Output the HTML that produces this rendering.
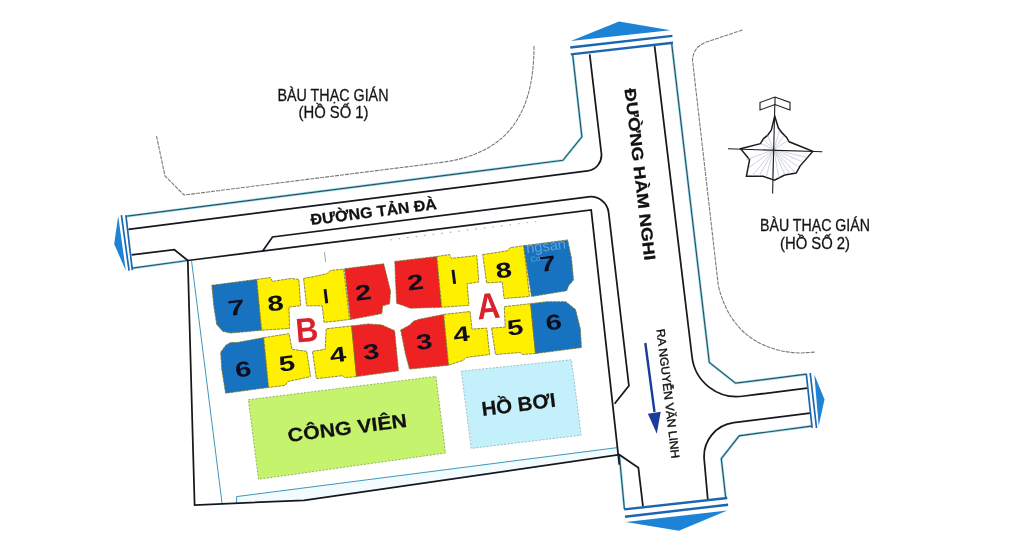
<!DOCTYPE html>
<html><head><meta charset="utf-8"><style>
html,body{margin:0;padding:0;background:#fff;width:1024px;height:548px;overflow:hidden}
svg{display:block;will-change:transform}
text{font-family:"Liberation Sans",sans-serif}
</style></head><body>
<svg width="1024" height="548" viewBox="0 0 1024 548">
<rect width="1024" height="548" fill="#fff"/>

<g fill="none" stroke="#7a7a7a" stroke-width="1.1" stroke-dasharray="4 1">
  <path d="M156.5,136 L165,176 L184,195 L440,162.6 C501.1,154.8 534,121.8 534,46"/>
  <path d="M742.5,30 L705,42.5 Q693,48 692.5,60 L718.3,285.6 C730,335 765,352 800,353 L815.4,352.1"/>
</g>

<path d="M324.4,252 L325.6,262" stroke="#9a9a9a" stroke-width="0.9" fill="none"/>
<path d="M390,239.8 L536,221.5" stroke="#b4b4b4" stroke-width="1.2" fill="none" stroke-dasharray="1.6 7"/>
<path d="M236.6,496.6 L618,447 L619.4,454.7 L304,500.3 L237.5,503 Z" fill="#f2fbfe"/>

<path d="M248.4,399.7 L435.9,376.4 L445.5,453 L258.5,479.3 Z" fill="#c6f36e" stroke="#6f9a3a" stroke-width="0.7" stroke-dasharray="2 1.5"/>
<path d="M461.3,371.2 L571.4,359.7 L581.2,435.2 L471.2,448.4 Z" fill="#c4f0fb" stroke="#7fa9b8" stroke-width="0.7" stroke-dasharray="2 1.5"/>

<g fill="none" stroke-linejoin="miter">
  <g stroke="#9fe0f2" stroke-width="2.6">
    <path d="M127.1,216.2 L562.9,160.3 L581.9,136.9 L572.7,55.1"/><path d="M132.3,268.2 L187.8,260.5"/><path d="M671.7,43.6 L709.3,362.4 L735.5,383.2 L806.3,374.2"/><path d="M811.4,426.1 L739.2,435.8 L721.3,458.7 L725.8,498.5"/><path d="M619.3,455 L624.4,509"/>
  </g>
  <g stroke="#2b5563" stroke-width="1.2">
    <path d="M127.1,216.2 L562.9,160.3 L581.9,136.9 L572.7,55.1"/><path d="M132.3,268.2 L187.8,260.5"/><path d="M671.7,43.6 L709.3,362.4 L735.5,383.2 L806.3,374.2"/><path d="M811.4,426.1 L739.2,435.8 L721.3,458.7 L725.8,498.5"/><path d="M619.3,455 L624.4,509"/>
  </g>
</g>
<g fill="none" stroke="#3f97bb" stroke-width="1">
  <path d="M191.6,261.2 L222,503"/>
  <path d="M236.6,503 L236.6,496.6 L618,447.5"/>
</g>

<g fill="none" stroke="#16181f" stroke-width="1.75" stroke-linejoin="miter">
  <path d="M128.40,229.30 L587.50,170.99 A16.00,16.00 0 0 0 601.37,153.25 L589.71,54.40"/>
  <path d="M131.6,254.8 L174.4,249.7 L187.8,260.5"/>
  <path d="M262.50,251.20 L272.50,236.98 L588.49,196.85 A18.00,18.00 0 0 1 608.64,212.62 L628.90,385.70 L614.60,403.80"/>
  <path d="M187.8,260.5 L591.2,209.9 L619.3,464.6"/>
  <path d="M187.8,260.5 L194.6,505 L304,500.3 L619.4,454.7 L638.4,467.8 L643,506.6"/>
  <path d="M654.60,46.20 L692.05,356.99 A45.00,45.00 0 0 0 742.40,396.25 L807.00,388.04"/>
  <path d="M810.00,413.06 L733.79,422.74 A34.00,34.00 0 0 0 704.21,459.51 L707.80,499.50"/>
</g>

<g fill="#1d83d6">
  <path d="M570.8,41.1 L619,21.4 L670.4,30.3 Z"/>
  <path d="M625.8,521.9 L727.3,510.5 L678.9,530.8 Z"/>
  <path d="M118.2,216 L114.2,244 L125.8,270.5 Z"/>
  <path d="M814.3,374.6 L824.5,399.4 L818.7,425.7 Z"/>
</g>
<g fill="none" stroke="#1a66b0" stroke-width="2.4">
  <path d="M570.2,47.5 L672.4,35.9"/>
  <path d="M570.8,54.4 L673,42.8"/>
  <path d="M624.2,509.4 L727.3,498"/>
  <path d="M625,516.7 L728.1,504.7"/>
</g>
<g fill="none" stroke="#1a66b0" stroke-width="1.7">
  <path d="M121.4,215.2 L129.1,270.7"/>
  <path d="M125.9,215.2 L132.3,270.1"/>
  <path d="M806.3,373.9 L812.1,427.9"/>
  <path d="M810.2,373 L816.5,428"/>
</g>
<!-- buildings B -->
<g stroke="#75702c" stroke-width="0.8" stroke-dasharray="3 0.8" stroke-linejoin="round">
  <path fill="#1773c0" d="M211.8,285.3 L256.8,279.4 L261.6,330.2 L230.4,333.1 L222.6,331.2 L216.7,324.3 L213.8,305.8 Z"/>
  <path fill="#fff000" d="M256.8,279.4 L270.4,277.5 L272.4,281.4 L290.9,278.4 L298.8,279.4 L300.7,305.8 L289,307 L289.5,328.5 L261.6,330.2 Z"/>
  <path fill="#fff000" d="M303.6,278.4 L314.4,276.5 L327.1,273.6 L330,270.6 L343.7,269.1 L349.5,319.5 L324.1,322.4 L322.2,305.8 L306.6,305.8 Z"/>
  <path fill="#ee2222" d="M344.6,268.7 L383.7,263.8 L390.5,291.1 L389.6,303.8 L382.7,305.8 L381.8,313.6 L350.5,319.5 Z"/>
  <path fill="#1773c0" d="M220.7,352.2 L225.6,345.4 L230.5,342.5 L237.3,342.5 L263.7,337.6 L268.6,387.4 L225.6,393.2 L221.7,368.8 Z"/>
  <path fill="#fff000" d="M263.7,337.6 L289.1,333.7 L292,349.3 L306.7,351.3 L310.6,376.6 L288.1,381.5 L285.2,385.4 L268.6,387.4 Z"/>
  <path fill="#fff000" d="M312.5,351.3 L325.2,349.3 L326.2,328.8 L351.6,325.9 L356.5,376.6 L344.8,377.6 L342.8,375.7 L316.4,378.6 Z"/>
  <path fill="#ee2222" d="M351.6,325.9 L368.2,323.9 L381.9,324.9 L394.6,330.7 L398.5,370.8 L356.5,376.6 Z"/>
</g>
<!-- buildings A -->
<g stroke="#75702c" stroke-width="0.8" stroke-dasharray="3 0.8" stroke-linejoin="round">
  <path fill="#ee2222" d="M394.8,261.4 L436.8,256.5 L441.6,307.3 L410.4,308.2 L402.6,305.3 L396.7,303.4 L395.7,283.8 Z"/>
  <path fill="#fff000" d="M436.8,256.5 L449.5,254.5 L451.4,258.4 L476.8,255.5 L478.8,281.9 L467,283.8 L469,305.3 L441.6,307.3 Z"/>
  <path fill="#fff000" d="M482.7,254.5 L496.3,252.6 L508,250.6 L510,247.7 L523.7,245.7 L529.5,296.5 L504.1,298.5 L502.2,281.9 L486.6,282.9 Z"/>
  <path fill="#1773c0" d="M523.7,245.7 L567.6,239.9 L571.5,258.4 L573.5,279.9 L568.6,285.8 L566.6,290.7 L531.5,296.5 Z"/>
  <path fill="#ee2222" d="M400.7,330 L409.5,325.2 L413.4,321.3 L419.3,319.3 L443.7,314.4 L448.6,365.2 L409.5,369.1 L405.6,354.5 Z"/>
  <path fill="#fff000" d="M443.7,314.4 L470.1,311.5 L472,329.1 L486.7,328.1 L489.6,354.5 L466.2,357.4 L463.2,360.3 L448.6,365.2 Z"/>
  <path fill="#fff000" d="M491.6,328.1 L505.2,327.1 L504.3,306.6 L530.6,303.7 L535.5,353.5 L522.8,354.5 L519.9,352.5 L495.5,354.5 Z"/>
  <path fill="#1773c0" d="M530.6,303.7 L546.3,301.7 L565.8,301.7 L575.5,309.5 L580.4,329.1 L581.4,347.6 L535.5,353.5 Z"/>
</g>
<!-- red B2 right edge left of A -->

<g fill="#fff" fill-opacity="0.32" transform="rotate(-7 546 250)">
  <text x="526.5" y="251" font-size="14.5" textLength="40" lengthAdjust="spacingAndGlyphs">ngsan</text>
  <text x="529.5" y="260" font-size="7.5">Com</text>
</g>
<!-- building numbers -->
<g font-weight="bold" font-size="21.5" fill="#0e0e1c" text-anchor="middle">
  <text transform="translate(237.2,315.0) rotate(-7) scale(1.42,1)">7</text>
  <text transform="translate(276.3,310.6) rotate(-7) scale(1.36,1)">8</text>
  <text transform="translate(364.2,299.8) rotate(-7) scale(1.36,1)">2</text>
  <text transform="translate(244.2,376.5) rotate(-7) scale(1.36,1)">6</text>
  <text transform="translate(287.8,370.8) rotate(-7) scale(1.36,1)">5</text>
  <text transform="translate(338.9,361.9) rotate(-7) scale(1.36,1)">4</text>
  <text transform="translate(372.1,359.0) rotate(-7) scale(1.36,1)">3</text>
  <text transform="translate(416.3,289.6) rotate(-7) scale(1.36,1)">2</text>
  <text transform="translate(504.6,277.6) rotate(-7) scale(1.36,1)">8</text>
  <text transform="translate(548.6,271.0) rotate(-7) scale(1.36,1)">7</text>
  <text transform="translate(425.2,349.0) rotate(-7) scale(1.36,1)">3</text>
  <text transform="translate(462.3,341.6) rotate(-7) scale(1.36,1)">4</text>
  <text transform="translate(516.0,334.8) rotate(-7) scale(1.36,1)">5</text>
  <text transform="translate(554.6,329.4) rotate(-7) scale(1.36,1)">6</text>
</g>
<rect x="-1.45" y="-7.1" width="2.9" height="14.2" fill="#0e0e1c" transform="translate(325.9,296.2) rotate(-7)"/>
<rect x="-1.45" y="-7.1" width="2.9" height="14.2" fill="#0e0e1c" transform="translate(453.8,276.9) rotate(-7)"/>
<g font-weight="bold" font-size="34" fill="#d9222e" text-anchor="middle">
  <text transform="translate(308,341.5) rotate(-5) scale(0.91,1)">B</text>
  <text font-size="36.5" transform="translate(489.3,318.5) rotate(-5) scale(0.87,1)">A</text>
</g>

<!-- labels -->
<text font-weight="bold" font-size="15.5" fill="#111" stroke="#111" stroke-width="0.25" transform="translate(311.3,225.1) rotate(-7.24)" textLength="127" lengthAdjust="spacingAndGlyphs">ĐƯỜNG TẢN ĐÀ</text>
<text font-weight="bold" font-size="16" fill="#111" stroke="#111" stroke-width="0.25" transform="translate(624.6,89) rotate(83.4)" textLength="173" lengthAdjust="spacingAndGlyphs">ĐƯỜNG HÀM NGHI</text>
<text font-size="11.8" fill="#111" stroke="#111" stroke-width="0.35" transform="translate(656.6,329.5) rotate(83.4)" textLength="130" lengthAdjust="spacingAndGlyphs">RA NGUYỄN VĂN LINH</text>
<text font-weight="bold" font-size="19" fill="#111" stroke="#111" stroke-width="0.2" transform="translate(288.6,442) rotate(-7.24)" textLength="120" lengthAdjust="spacingAndGlyphs">CÔNG VIÊN</text>
<text font-weight="bold" font-size="20" fill="#111" stroke="#111" stroke-width="0.2" transform="translate(482.4,416) rotate(-7.24)" textLength="74.5" lengthAdjust="spacingAndGlyphs">HỒ BƠI</text>

<g font-size="16.8" fill="#151515" stroke="#151515" stroke-width="0.3" text-anchor="middle">
  <text x="333" y="100.6" font-size="16.5" textLength="111" lengthAdjust="spacingAndGlyphs">BÀU THẠC GIÁN</text>
  <text x="333.5" y="117.9" font-size="16.5" textLength="70" lengthAdjust="spacingAndGlyphs">(HỒ SỐ 1)</text>
  <text x="815" y="231.2" font-size="15.8" textLength="110" lengthAdjust="spacingAndGlyphs">BÀU THẠC GIÁN</text>
  <text x="815" y="248.7" font-size="15.8" textLength="70" lengthAdjust="spacingAndGlyphs">(HỒ SỐ 2)</text>
</g>

<!-- arrow -->
<path d="M645.3,343 L654.5,412" stroke="#1a3c9c" stroke-width="2.4" fill="none"/>
<path d="M647.9,413.8 L660.7,411.8 L656.8,433.7 Z" fill="#1a3c9c"/>

<!-- compass -->
<g fill="none" stroke="#1c1c1c" stroke-width="1.1">
  <path d="M760,102.5 L775,97 L790,102.5 L790,110 L775,104.5 L760,110 Z" fill="#fff"/>
  <path d="M775,97 L775,104.5"/>
  <path d="M774.7,116 L778.3,127.8 L782.1,132.9 L786.6,137.4 L789.2,141.8 L812.8,151.4 L800,166.1 L796.2,173.1 L784.7,175 L774.5,180.1 L763,176.3 L746.4,176.3 L749.6,159.7 L740.6,148.8 L760.4,143.7 L763.6,138.6 L767.5,135.4 L771.3,130.3 Z" fill="#fff" stroke-width="1.5"/>
  <g stroke="#a9b6c8" stroke-width="0.6">
    <path d="M773.8,149.5 L767.5,135.4 M773.8,149.5 L763.8,139.5 M773.8,149.5 L761.0,143.5 M773.8,149.5 L779.5,131.0 M773.8,149.5 L784.0,135.5 M773.8,149.5 L788.0,140.5 M773.8,149.5 L746.0,160.0 M773.8,149.5 L748.5,168.0 M773.8,149.5 L752.0,176.0 M773.8,149.5 L759.0,176.3 M773.8,149.5 L766.0,177.3 M773.8,149.5 L772.0,179.5 M773.8,149.5 L779.0,178.0 M773.8,149.5 L785.0,175.0 M773.8,149.5 L790.0,174.2 M773.8,149.5 L795.5,173.0 M773.8,149.5 L799.0,167.5 M773.8,149.5 L803.0,162.0 M773.8,149.5 L807.0,157.5"/>
  </g>
  <path d="M774.8,104.5 L772.6,193.4"/>
  <path d="M728,148.8 L822.4,151.8"/>
</g>
</svg>
</body></html>
